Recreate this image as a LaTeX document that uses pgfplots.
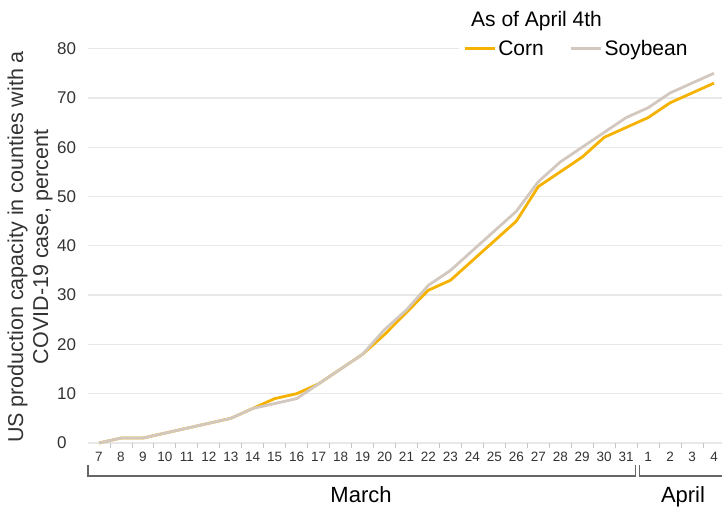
\documentclass[border=0pt]{standalone}
\usepackage{pgfplots}
\pgfplotsset{compat=1.18}
\usepackage{fontspec}
\setmainfont{Liberation Sans}
\definecolor{corn}{HTML}{F5B200}
\definecolor{soy}{HTML}{D3C8BF}
\definecolor{gridc}{HTML}{E8E8E8}
\definecolor{txt}{HTML}{333333}
\definecolor{brk}{HTML}{666666}
\pgfplotstableread{
i corn soy
0 0 0
1 1 1
2 1 1
3 2 2
4 3 3
5 4 4
6 5 5
7 7 7
8 9 8
9 10 9
10 12 12
11 15 15
12 18 18
13 22 23
14 26.5 27
15 31 32
16 33 35
17 37 39
18 41 43
19 45 47
20 52 53
21 55 57
22 58 60
23 62 63
24 64 66
25 66 68
26 69 71
27 71 73
28 73 75
}\data
\begin{document}
\begin{tikzpicture}[x=1bp,y=1bp]
\useasboundingbox (0,0) rectangle (722,508);
\begin{axis}[
  at={(88bp,65bp)}, anchor=south west,
  scale only axis, width=634bp, height=394.4bp,
  xmin=-0.5, xmax=28.364, ymin=0, ymax=80,
  clip=false,
  axis line style={draw=none},
  ymajorgrids, grid style={gridc, line width=1.3bp},
  ytick={0,10,...,80},
  xtick={0,...,28},
  xticklabels={7,8,9,10,11,12,13,14,15,16,17,18,19,20,21,22,23,24,25,26,27,28,29,30,31,1,2,3,4},
  minor xtick={0.5,1.5,...,27.5},
  major tick length=0pt,
  minor tick length=5bp,
  tick align=outside,
  xtick pos=left, ytick pos=left,
  every minor tick/.append style={draw=gray!45, line width=0.8bp},
  /pgf/number format/assume math mode=true,
  yticklabel style={anchor=west, inner sep=0pt, xshift=-31bp, text=txt, font=\fontsize{17bp}{20bp}\selectfont},
  xticklabel style={anchor=center, inner sep=0pt, yshift=-14bp, text=txt, font=\fontsize{13.5bp}{16bp}\selectfont},
  ylabel={US production capacity in counties with a\\COVID-19 case, percent},
  ylabel style={align=center, font=\fontsize{21.5bp}{25bp}\selectfont, at={(axis description cs:-0.0915,0.497)}, anchor=center, text=txt},
  legend style={at={(0.592,1.0)}, anchor=west, draw=none, fill=white, inner sep=0pt,
    font=\fontsize{21bp}{24bp}\selectfont, legend columns=2,
    /tikz/every even column/.append style={column sep=24bp}},
  legend image code/.code={\path (0bp,0bp) -- (30bp,0bp); \draw[#1] (0bp,0bp) -- (26bp,0bp);},
]
\fill[white] (axis cs:16.4,77.5) rectangle (axis cs:28.6,83);
\addplot[corn, line width=2.8bp, line join=round] table[x=i, y=corn] {\data};
\addlegendentry{Corn}
\addplot[soy, line width=2.8bp, line join=round] table[x=i, y=soy] {\data};
\addlegendentry{Soybean}
\end{axis}
\node[anchor=base west, inner sep=0pt, font=\fontsize{21bp}{24bp}\selectfont] at (471,481) {As of April 4th};
\draw[brk, line width=1.2bp] (88,43) -- (88,32) -- (635.3,32) -- (635.3,43);
\draw[brk, line width=1.2bp] (639.3,43) -- (639.3,32) -- (722,32);
\node[anchor=base, inner sep=0pt, font=\fontsize{22bp}{24bp}\selectfont] at (361,5) {March};
\node[anchor=base, inner sep=0pt, font=\fontsize{22bp}{24bp}\selectfont] at (683,5) {April};
\end{tikzpicture}
\end{document}
